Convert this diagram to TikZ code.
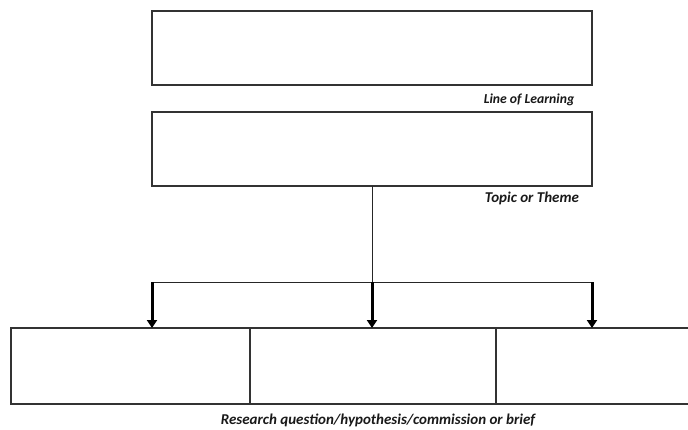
\documentclass[tikz,border=0pt]{standalone}
\usepackage{fontspec}
\setmainfont{Carlito}
\usetikzlibrary{arrows.meta}
\begin{document}
\begin{tikzpicture}[x=1pt,y=-1pt,
  box/.style={draw=black!80,line width=1.3pt,inner sep=0pt,outer sep=0pt},
  thinline/.style={draw=black!85,line width=1pt},
  arr/.style={draw=black,line width=3pt,-{Triangle[width=10pt,length=8pt]}},
  lbl/.style={font=\bfseries\itshape,text=black!90,inner sep=0pt}]
\useasboundingbox (0,0) rectangle (688,429);
\node[box,minimum width=440pt,minimum height=74pt] (lol) at (372,48) {};
\node[box,minimum width=440pt,minimum height=74pt] (topic) at (372,149) {};
\node[box,minimum width=239pt,minimum height=76pt] (b1) at (130.5,366) {};
\node[box,minimum width=246pt,minimum height=76pt] (b2) at (373,366) {};
\node[box,minimum width=204pt,minimum height=76pt] (b3) at (598,366) {};
\node[lbl,font=\bfseries\itshape\fontsize{13.7}{15}\selectfont] (tlol) at (529,100) {Line of Learning};
\node[lbl,font=\bfseries\itshape\fontsize{15}{17}\selectfont] (ttopic) at (532,198) {Topic or Theme};
\node[lbl,font=\bfseries\itshape\fontsize{15}{17}\selectfont] (tres) at (378,420) {Research question/hypothesis/commission or brief};
\coordinate (jm) at (372,282);
\coordinate (jl) at (152,282);
\coordinate (jr) at (592,282);
\draw[thinline] (topic.south -| jm) -- (jm);
\draw[thinline] (jl) -- (jr);
\draw[arr] (jl) -- (jl |- b1.north);
\draw[arr] (jm) -- (jm |- b2.north);
\draw[arr] (jr) -- (jr |- b3.north);
\end{tikzpicture}
\end{document}
